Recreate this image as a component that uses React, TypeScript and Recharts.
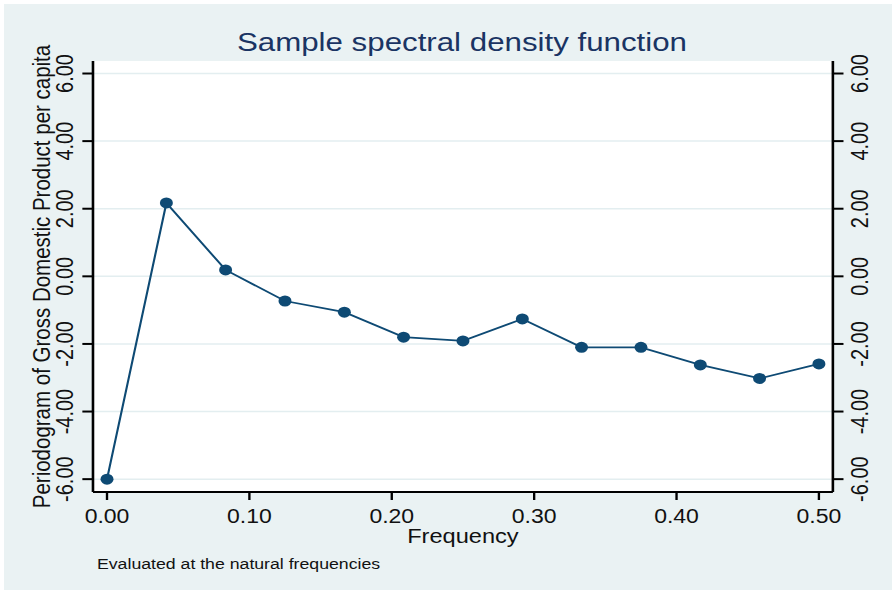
import React from 'react';
import { LineChart, Line, XAxis, YAxis, CartesianGrid, Label } from 'recharts';

// natural frequencies k/24 and periodogram values
const frequencies = [0, 0.0417, 0.0833, 0.125, 0.1667, 0.2083, 0.25, 0.2917, 0.3333, 0.375, 0.4167, 0.4583, 0.5];
const periodogram = [-6.0, 2.17, 0.19, -0.73, -1.06, -1.8, -1.91, -1.26, -2.1, -2.1, -2.62, -3.02, -2.59];
const xTicks = [0, 0.1, 0.2, 0.3, 0.4, 0.5];
const yTicks = [-6, -4, -2, 0, 2, 4, 6];

const data = frequencies.map((f, i) => ({ freq: f, value: periodogram[i] }));

const FONT = '"Liberation Sans", Arial, Helvetica, sans-serif';
const NAVY = '#0e4a74';
const BG = '#eaf2f3';

// the reference is stretched horizontally, so the chart is drawn narrower and scaled
const STRETCH = 1.18;
const W = 892 / STRETCH;
const H = 593;

const XTick = (props: any) => {
  const { x, y, payload } = props;
  return (
    <text x={x} y={y + 21} textAnchor="middle" fontSize={19.5} fontFamily={FONT} fill="#111">
      {Number(payload.value).toFixed(2)}
    </text>
  );
};

const YTick = (side: 'left' | 'right') => (props: any) => {
  const { x, y, payload } = props;
  const bx = side === 'left' ? x - 5.8 : x + 18.7;
  return (
    <text
      x={bx}
      y={y}
      transform={`rotate(-90 ${bx} ${y})`}
      textAnchor="middle"
      fontSize={20}
      fontFamily={FONT}
      fill="#111"
    >
      {Number(payload.value).toFixed(2)}
    </text>
  );
};

export default function App() {
  return (
    <div style={{ position: 'absolute', left: 0, top: 0, width: 892, height: 593, background: '#fff', overflow: 'hidden' }}>
      <div style={{ position: 'absolute', left: 4, top: 4, right: 0, bottom: 3, background: BG }} />
      <div style={{ position: 'absolute', left: 0, top: 0, width: W, height: H, transform: `scaleX(${STRETCH})`, transformOrigin: '0 0' }}>
        <LineChart width={W} height={H} data={data} margin={{ top: 61, right: 10.1, bottom: 61, left: 38.8 }}>
          <CartesianGrid yAxisId="left" vertical={false} fill="#fff" stroke="#e3eef0" strokeWidth={1.5} horizontalValues={yTicks} />
          <XAxis
            dataKey="freq"
            type="number"
            domain={[-0.00985, 0.5098]}
            ticks={xTicks}
            allowDataOverflow
            height={40}
            tickSize={8}
            tickMargin={2}
            tick={<XTick />}
            axisLine={{ stroke: '#000', strokeWidth: 2.2 }}
            tickLine={{ stroke: '#000', strokeWidth: 2 }}
          >
            <Label
              content={(p: any) => {
                const vb = p.viewBox || { x: 78.8, y: 492, width: 627, height: 40 };
                return (
                  <text x={vb.x + vb.width / 2} y={vb.y + 51} textAnchor="middle" fontSize={20} fontFamily={FONT} fill="#111">
                    Frequency
                  </text>
                );
              }}
            />
          </XAxis>
          <YAxis
            yAxisId="left"
            orientation="left"
            type="number"
            domain={[-6.38, 6.37]}
            ticks={yTicks}
            allowDataOverflow
            width={40}
            tickSize={9}
            tickMargin={2}
            tick={YTick('left')}
            axisLine={{ stroke: '#000', strokeWidth: 2.2 }}
            tickLine={{ stroke: '#000', strokeWidth: 2 }}
          >
            <Label
              content={(p: any) => {
                const vb = p.viewBox || { x: 38.8, y: 61, width: 40, height: 431 };
                const bx = vb.x + 3.4;
                const cy = vb.y + vb.height / 2;
                return (
                  <text x={bx} y={cy} transform={`rotate(-90 ${bx} ${cy})`} textAnchor="middle" fontSize={20.5} fontFamily={FONT} fill="#111">
                    Periodogram of Gross Domestic Product per capita
                  </text>
                );
              }}
            />
          </YAxis>
          <YAxis
            yAxisId="right"
            orientation="right"
            type="number"
            domain={[-6.38, 6.37]}
            ticks={yTicks}
            allowDataOverflow
            width={40}
            tickSize={9}
            tickMargin={2}
            tick={YTick('right')}
            axisLine={{ stroke: '#000', strokeWidth: 2.2 }}
            tickLine={{ stroke: '#000', strokeWidth: 2 }}
          />
          <Line
            yAxisId="left"
            type="linear"
            dataKey="value"
            stroke={NAVY}
            strokeWidth={1.8}
            dot={{ r: 5.5, fill: NAVY, stroke: 'none' }}
            activeDot={false}
            isAnimationActive={false}
          />
          <text x={391.5} y={51} textAnchor="middle" fontSize={26.5} fontFamily={FONT} fill="#1a3463">
            Sample spectral density function
          </text>
          <text x={82.2} y={569} fontSize={15} fontFamily={FONT} fill="#111">
            Evaluated at the natural frequencies
          </text>
        </LineChart>
      </div>
    </div>
  );
}
